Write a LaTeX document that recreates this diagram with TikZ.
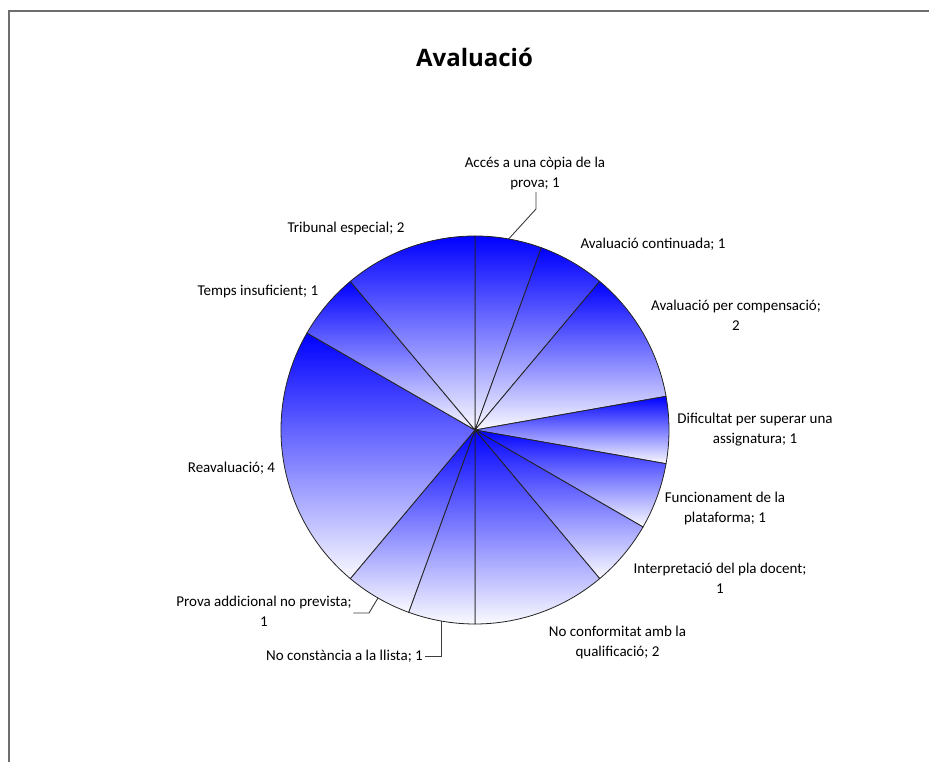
\documentclass[tikz,border=0pt]{standalone}
\usepackage{fontspec}
\setmainfont{Carlito}
\newfontfamily\titlefont{Open Sans}
\definecolor{pieblue}{RGB}{0,0,255}
\definecolor{piewhite}{RGB}{250,250,255}
\definecolor{framegray}{RGB}{110,110,110}
\definecolor{edgegray}{RGB}{35,35,35}
\definecolor{leadgray}{RGB}{60,60,60}
\begin{document}
\begin{tikzpicture}[x=1pt,y=1pt,
  slice/.style={draw=edgegray, line width=0.8pt, top color=pieblue, bottom color=piewhite},
  lbl/.style={font=\fontsize{15}{20}\selectfont, align=center, inner sep=1.5pt, text=black},
  leader/.style={draw=leadgray, line width=0.9pt},
  chartframe/.style={draw=framegray, line width=2pt}]
\useasboundingbox (-475,-332) rectangle (454,430);
\fill[white] (-475,-332) rectangle (454,430);
% frame (top and left edges only)
\draw[chartframe] (-466,-332) -- (-466,419) -- (454,419);
% title
\node[font=\titlefont\bfseries\fontsize{24}{28}\selectfont, inner sep=0] (title) at (-0.5,373) {Avaluació};
% slices
\foreach \a/\b in {90/70,70/50,50/10,10/-10,-10/-30,-30/-50,-50/-90,-90/-110,-110/-130,-130/-210,150/130,130/90}
  \shadedraw[slice] (0,0) -- (\a:194) arc[start angle=\a, end angle=\b, radius=194] -- cycle;
% labels
\node[lbl] (acc) at (60,256) {Accés a una còpia de la\\prova; 1};
\node[lbl] (cont) at (178,186) {Avaluació continuada; 1};
\node[lbl] (comp) at (261,115) {Avaluació per compensació;\\2};
\node[lbl] (dif) at (280,0) {Dificultat per superar una\\assignatura; 1};
\node[lbl] (func) at (250,-79) {Funcionament de la\\plataforma; 1};
\node[lbl] (interp) at (245,-148) {Interpretació del pla docent;\\1};
\node[lbl] (conf) at (142.5,-213) {No conformitat amb la\\qualificació; 2};
\node[lbl] (const) at (-130.5,-226) {No constància a la llista; 1};
\node[lbl] (prova) at (-211,-181) {Prova addicional no prevista;\\1};
\node[lbl] (reav) at (-243.5,-38) {Reavaluació; 4};
\node[lbl] (temps) at (-217,138) {Temps insuficient; 1};
\node[lbl] (trib) at (-129,201) {Tribunal especial; 2};
% leader lines
\coordinate (pacc) at (80:194);
\coordinate (kacc) at (61,221);
\draw[leader] (pacc) -- (kacc) -- (kacc |- acc.south);
\coordinate (pconst) at (-100:194);
\draw[leader] (pconst) |- (const.east);
\coordinate (pprova) at (-120:194);
\coordinate (kprova) at (-106,-183);
\draw[leader] (pprova) -- (kprova) -- (kprova -| prova.east);
\end{tikzpicture}
\end{document}
